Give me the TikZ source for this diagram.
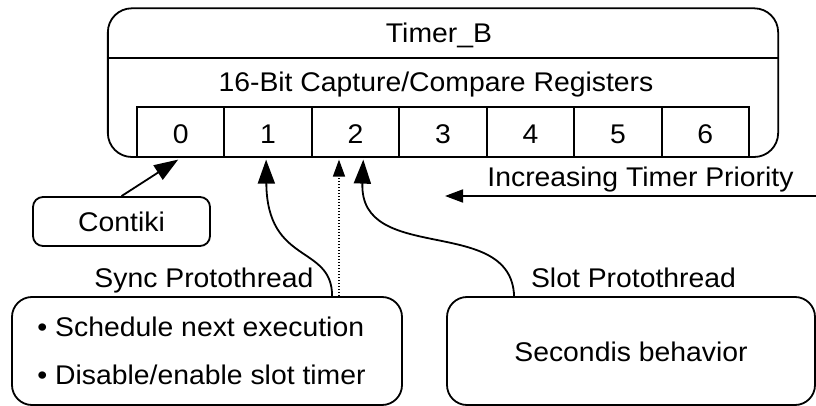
\documentclass[tikz,border=0pt]{standalone}
\usepackage{fontspec}
\setmainfont{Liberation Sans}[FakeStretch=1.05]
\usetikzlibrary{arrows.meta,calc}
\begin{document}
\begin{tikzpicture}[x=1pt,y=-1pt,line width=1.8pt,
  rbox/.style={draw, rounded corners=#1, inner sep=0pt},
  txt/.style={font=\fontsize{27}{32}\selectfont, inner sep=0pt, anchor=base},
  cell/.style={draw, minimum width=87.43pt, minimum height=50pt, inner sep=0pt,
    font=\fontsize{27}{32}\selectfont, text height=23pt, text depth=0pt},
  bigarrow/.style={-{Triangle[length=24pt,width=17pt]}},
  dotarrow/.style={-{Triangle[length=17pt,width=12pt]}, line width=1.5pt, dash pattern=on 1.5pt off 1.5pt},
  medarrow/.style={-{Triangle[length=18pt,width=13pt]}}]
\useasboundingbox (0,0) rectangle (816,406);
% Timer_B outer box
\node[rbox=24pt, minimum width=670.3pt, minimum height=148.7pt] (timer) at (443,82.65) {};
\draw (timer.west |- 0,58) -- (timer.east |- 0,58);
\node[txt] (tb) at (439,42.7) {Timer\_B};
\node[txt] (regs) at (436,92) {16-Bit Capture/Compare Registers};
% registers
\node[cell] (c0) at (180.7,131.7) {0};
\node[cell] (c1) at (268.1,131.7) {1};
\node[cell] (c2) at (355.6,131.7) {2};
\node[cell] (c3) at (443.0,131.7) {3};
\node[cell] (c4) at (530.4,131.7) {4};
\node[cell] (c5) at (617.9,131.7) {5};
\node[cell] (c6) at (705.3,131.7) {6};
% priority
\node[txt] (prio) at (640.5,186) {Increasing Timer Priority};
\coordinate (pfrom) at (816,196);
\coordinate (pto) at (445,196);
\draw[medarrow] (pfrom) -- (pto);
% Contiki
\node[rbox=10pt, minimum width=177pt, minimum height=49pt,
  font=\fontsize{27}{32}\selectfont, text height=20pt, text depth=0pt] (contiki) at (121.5,221.5) {Contiki};
\draw[bigarrow] (contiki.north) -- ($(c0.south)+(-2.5,2)$);
% Sync protothread
\node[txt] (syncl) at (204,287) {Sync Protothread};
\node[rbox=20pt, minimum width=390pt, minimum height=108pt] (sync) at (207,351) {};
\node[txt, anchor=base west] (s1) at (36.5,336) {• Schedule next execution};
\node[txt, anchor=base west] (s2) at (36.5,384) {• Disable/enable slot timer};
\draw[bigarrow] ($(sync.north west)+(321,0)$) .. controls +(0,-52) and +(1,106) .. ($(c1.south)+(-2,2)$);
\coordinate (dtop) at ($(c2.south west)+(28,2)$);
\draw[dotarrow] (dtop |- sync.north) -- (dtop);
% Slot protothread
\node[txt] (slotl) at (633.5,287) {Slot Protothread};
\node[rbox=20pt, minimum width=368pt, minimum height=108pt,
  font=\fontsize{27}{32}\selectfont, text height=20pt, text depth=0pt] (slot) at (631,351) {Secondis behavior};
\draw[bigarrow] ($(slot.north west)+(68,0)$) .. controls +(-3,-82) and +(-4,106) .. ($(c2.south west)+(52.3,2)$);
\end{tikzpicture}
\end{document}
